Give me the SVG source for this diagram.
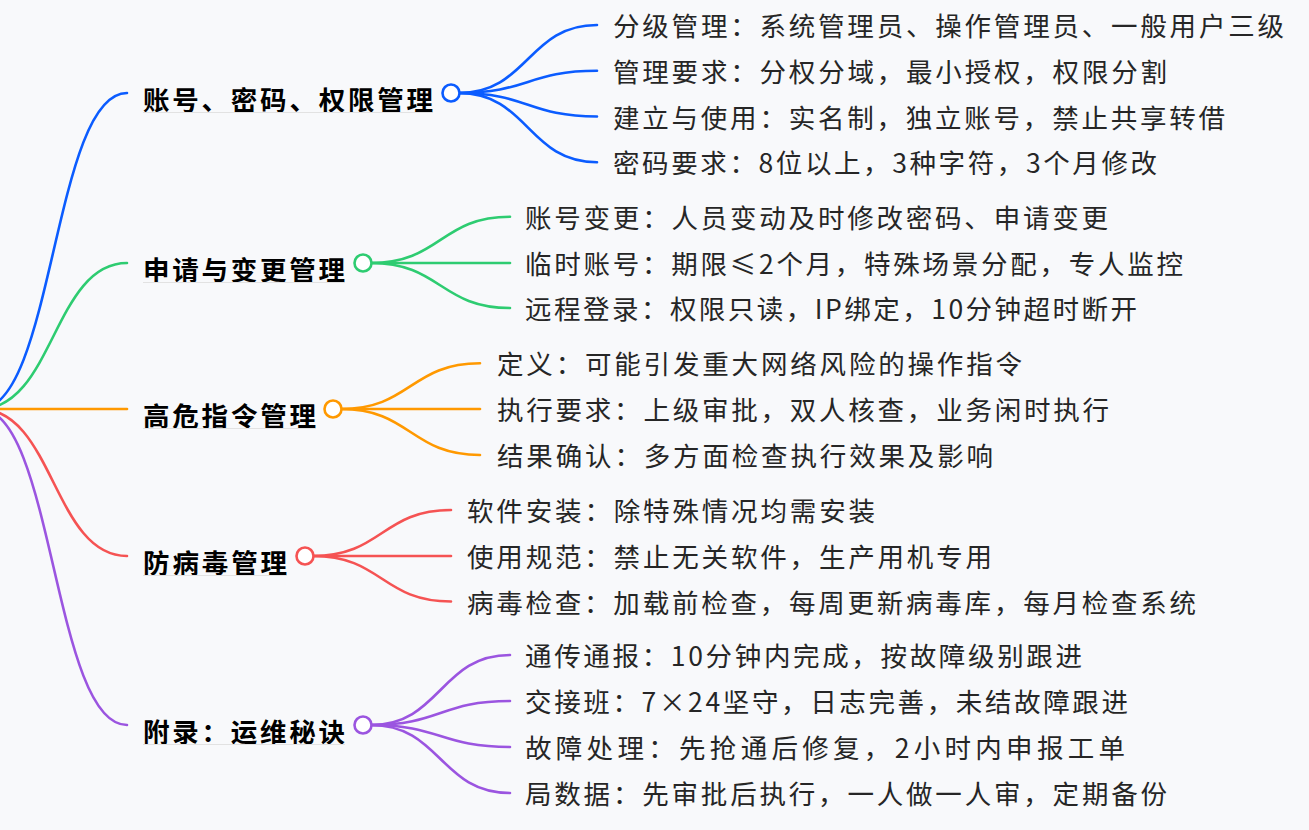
<svg xmlns="http://www.w3.org/2000/svg" width="1309" height="830" viewBox="0 0 1309 830">
<style>
.bg{fill:#f8f9fb}
.ln{fill:none;stroke-width:2.6;stroke-linecap:round}
.dot{fill:#ffffff;stroke-width:2.6}
.nt{font-family:"Noto Sans CJK SC","Noto Sans",sans-serif;font-size:26.5px;font-weight:bold;fill:#000}
.ct{font-family:"Noto Sans CJK SC","Noto Sans",sans-serif;font-size:26.5px;fill:#262626}
.ul{stroke:#e2e2e2;stroke-width:1}
.b{stroke:#0b5cff}.g{stroke:#2ecc71}.o{stroke:#ff9900}.r{stroke:#f55353}.p{stroke:#9b55e0}
</style>
<rect class="bg" x="0" y="0" width="1309" height="830"/>
<g id="connectors">
<path class="ln b" d="M-20,409 C53.5,409 53.5,93 127,93"/>
<path class="ln g" d="M-20,409 C53.5,409 53.5,263 127,263"/>
<path class="ln o" d="M-20,409 L127,409"/>
<path class="ln r" d="M-20,409 C53.5,409 53.5,556 127,556"/>
<path class="ln p" d="M-20,409 C53.5,409 53.5,725 127,725"/>
<path class="ln b" d="M459,93 C528,93 528,25 597,25"/>
<path class="ln b" d="M459,93 C528,93 528,70.8 597,70.8"/>
<path class="ln b" d="M459,93 C528,93 528,116.5 597,116.5"/>
<path class="ln b" d="M459,93 C528,93 528,162.3 597,162.3"/>
<path class="ln g" d="M371,263 C440.5,263 440.5,216.7 510,216.7"/>
<path class="ln g" d="M371,263 L510,263"/>
<path class="ln g" d="M371,263 C440.5,263 440.5,308 510,308"/>
<path class="ln o" d="M341,409 C410.5,409 410.5,363.3 480,363.3"/>
<path class="ln o" d="M341,409 L480,409"/>
<path class="ln o" d="M341,409 C410.5,409 410.5,455 480,455"/>
<path class="ln r" d="M313,556 C382,556 382,510 451,510"/>
<path class="ln r" d="M313,556 L451,556"/>
<path class="ln r" d="M313,556 C382,556 382,601.5 451,601.5"/>
<path class="ln p" d="M371,725 C440.5,725 440.5,655 510,655"/>
<path class="ln p" d="M371,725 C440.5,725 440.5,701 510,701"/>
<path class="ln p" d="M371,725 C440.5,725 440.5,747 510,747"/>
<path class="ln p" d="M371,725 C440.5,725 440.5,793 510,793"/>
</g>
<g id="node-account">
<text class="nt" x="143" y="110" textLength="290" lengthAdjust="spacing">账号、密码、权限管理</text>
<line class="ul" x1="143" y1="112.5" x2="433" y2="112.5"/>
<circle class="dot b" cx="451" cy="93" r="8.5"/>
</g>
<g id="node-apply">
<text class="nt" x="143" y="280" textLength="202" lengthAdjust="spacing">申请与变更管理</text>
<line class="ul" x1="143" y1="282.5" x2="345" y2="282.5"/>
<circle class="dot g" cx="363" cy="263" r="8.5"/>
</g>
<g id="node-danger">
<text class="nt" x="143" y="426" textLength="173" lengthAdjust="spacing">高危指令管理</text>
<line class="ul" x1="143" y1="428.5" x2="316" y2="428.5"/>
<circle class="dot o" cx="333" cy="409" r="8.5"/>
</g>
<g id="node-virus">
<text class="nt" x="143" y="573" textLength="144" lengthAdjust="spacing">防病毒管理</text>
<line class="ul" x1="143" y1="575.5" x2="287" y2="575.5"/>
<circle class="dot r" cx="305" cy="556" r="8.5"/>
</g>
<g id="node-appendix">
<text class="nt" x="143" y="742" textLength="202" lengthAdjust="spacing">附录：运维秘诀</text>
<line class="ul" x1="143" y1="744.5" x2="345" y2="744.5"/>
<circle class="dot p" cx="363" cy="725" r="8.5"/>
</g>
<g id="leaf-a1"><text class="ct" x="613" y="36" textLength="671" lengthAdjust="spacing">分级管理：系统管理员、操作管理员、一般用户三级</text></g>
<g id="leaf-a2"><text class="ct" x="613" y="81.8" textLength="554" lengthAdjust="spacing">管理要求：分权分域，最小授权，权限分割</text></g>
<g id="leaf-a3"><text class="ct" x="613" y="127.5" textLength="612" lengthAdjust="spacing">建立与使用：实名制，独立账号，禁止共享转借</text></g>
<g id="leaf-a4"><text class="ct" x="613" y="173.3" textLength="544" lengthAdjust="spacing">密码要求：8位以上，3种字符，3个月修改</text></g>
<g id="leaf-b1"><text class="ct" x="525" y="227.7" textLength="583" lengthAdjust="spacing">账号变更：人员变动及时修改密码、申请变更</text></g>
<g id="leaf-b2"><text class="ct" x="525" y="274" textLength="658" lengthAdjust="spacing">临时账号：期限≤2个月，特殊场景分配，专人监控</text></g>
<g id="leaf-b3"><text class="ct" x="525" y="319" textLength="612" lengthAdjust="spacing">远程登录：权限只读，IP绑定，10分钟超时断开</text></g>
<g id="leaf-c1"><text class="ct" x="497" y="374.3" textLength="525" lengthAdjust="spacing">定义：可能引发重大网络风险的操作指令</text></g>
<g id="leaf-c2"><text class="ct" x="497" y="420" textLength="612" lengthAdjust="spacing">执行要求：上级审批，双人核查，业务闲时执行</text></g>
<g id="leaf-c3"><text class="ct" x="497" y="466" textLength="496" lengthAdjust="spacing">结果确认：多方面检查执行效果及影响</text></g>
<g id="leaf-d1"><text class="ct" x="467" y="521" textLength="408" lengthAdjust="spacing">软件安装：除特殊情况均需安装</text></g>
<g id="leaf-d2"><text class="ct" x="467" y="567" textLength="525" lengthAdjust="spacing">使用规范：禁止无关软件，生产用机专用</text></g>
<g id="leaf-d3"><text class="ct" x="467" y="612.5" textLength="729" lengthAdjust="spacing">病毒检查：加载前检查，每周更新病毒库，每月检查系统</text></g>
<g id="leaf-e1"><text class="ct" x="525" y="666" textLength="557" lengthAdjust="spacing">通传通报：10分钟内完成，按故障级别跟进</text></g>
<g id="leaf-e2"><text class="ct" x="525" y="712" textLength="603" lengthAdjust="spacing">交接班：7×24坚守，日志完善，未结故障跟进</text></g>
<g id="leaf-e3"><text class="ct" x="525" y="758" textLength="600" lengthAdjust="spacing">故障处理：先抢通后修复，2小时内申报工单</text></g>
<g id="leaf-e4"><text class="ct" x="525" y="804" textLength="642" lengthAdjust="spacing">局数据：先审批后执行，一人做一人审，定期备份</text></g>
</svg>
